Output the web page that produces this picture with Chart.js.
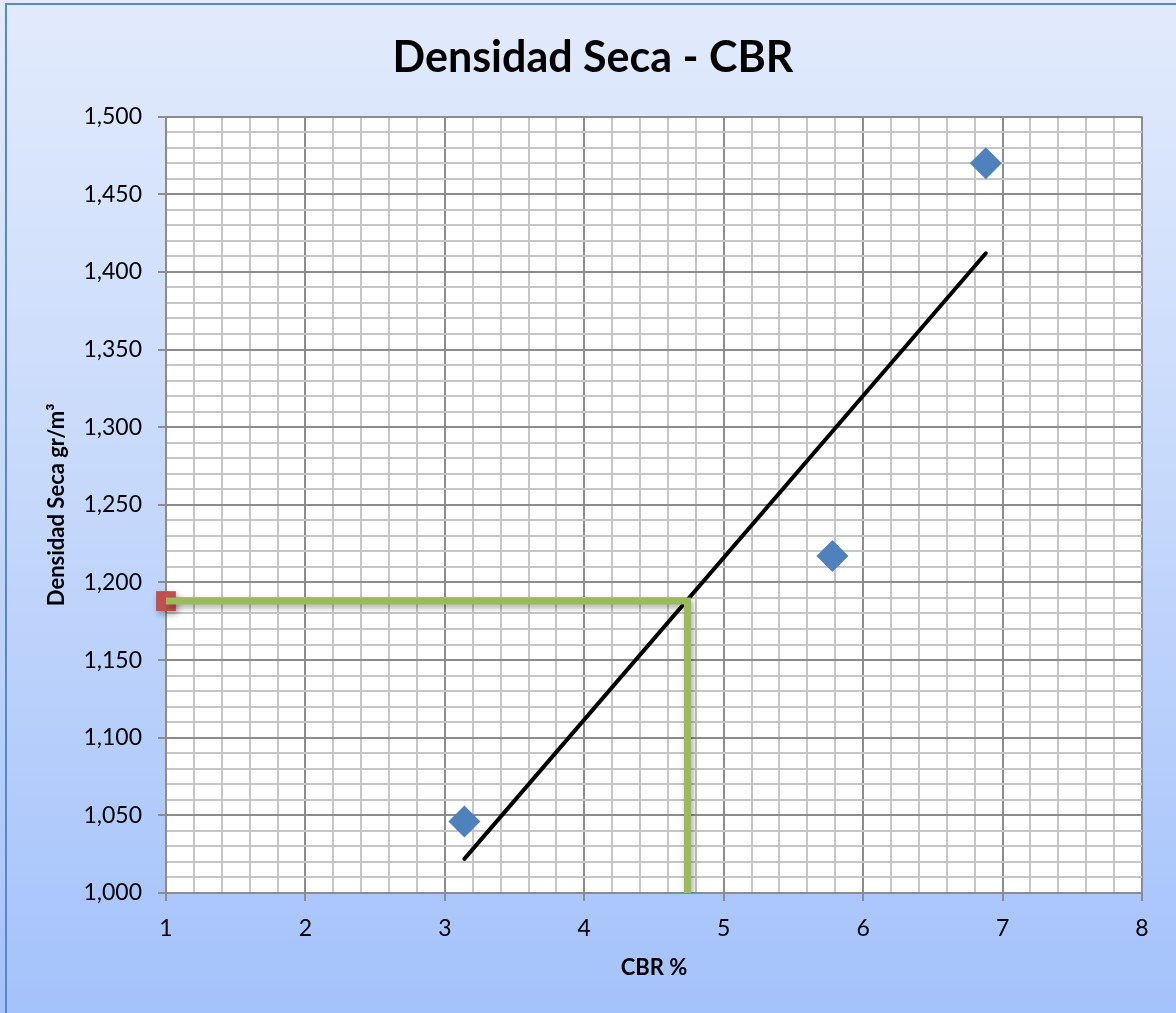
<!DOCTYPE html>
<html>
<head>
<meta charset="utf-8">
<title>Densidad Seca - CBR</title>
<script src="https://cdn.jsdelivr.net/npm/chart.js@4"></script>
<style>
  html, body { margin: 0; padding: 0; background: #ffffff; }
  #wrap { width: 1176px; height: 1013px; position: relative; }
</style>
</head>
<body>
<div id="wrap"><canvas id="cbr-chart"></canvas></div>
<script>
// datos
const cbrValues = [3.14, 5.78, 6.88];
const densityValues = [1046, 1217, 1470];

// linea de tendencia (extremos)
const trendCbr = [3.14, 6.88];
const trendDensity = [1022, 1412];

// lineas guia hasta la densidad de diseno
const guideCbr = [1, 4.74, 4.74];
const guideDensity = [1188, 1188, 1000];
const designPointCbr = [1];
const designPointDensity = [1188];

// ejes
const xMin = 1, xMax = 8, xStep = 0.2;
const yMin = 1000, yMax = 1500, yStep = 10, yMajor = 50;

const toPoints = (xs, ys) => xs.map((x, i) => ({ x: x, y: ys[i] }));

const isWhole = v => Math.abs(v - Math.round(v)) < 1e-6;
const isMajorY = v => Math.abs(v / yMajor - Math.round(v / yMajor)) < 1e-6;

// fondo degradado y area blanca del grafico
const backgroundPlugin = {
    id: 'fondo',
    beforeDraw(chart) {
        const { ctx, width, height, chartArea } = chart;
        ctx.save();
        const grad = ctx.createLinearGradient(0, 0, 0, height);
        grad.addColorStop(0, '#e2ebfc');
        grad.addColorStop(0.5, '#c5d8fb');
        grad.addColorStop(1, '#a4c2fb');
        ctx.fillStyle = grad;
        ctx.fillRect(0, 0, width, height);
        ctx.strokeStyle = '#5a86c2';
        ctx.lineWidth = 2;
        ctx.strokeRect(6, 4, width + 20, height + 20);
        ctx.fillStyle = '#ffffff';
        ctx.fillRect(chartArea.left, chartArea.top, chartArea.right - chartArea.left, chartArea.bottom - chartArea.top);
        ctx.restore();
    }
};

// sombra suave para las lineas verdes y el punto rojo
const shadowPlugin = {
    id: 'sombra',
    beforeDatasetDraw(chart, args) {
        const ds = chart.data.datasets[args.index];
        if (!ds.sombra) return;
        const ctx = chart.ctx;
        ctx.save();
        ctx.shadowColor = 'rgba(0,0,0,0.35)';
        ctx.shadowBlur = 6;
        ctx.shadowOffsetX = 2;
        ctx.shadowOffsetY = 3;
    },
    afterDatasetDraw(chart, args) {
        const ds = chart.data.datasets[args.index];
        if (!ds.sombra) return;
        chart.ctx.restore();
    }
};

const gridMinor = '#c6c6c6';
const gridMajor = '#8c8c8c';

new Chart(document.getElementById('cbr-chart'), {
    type: 'scatter',
    data: {
        datasets: [
            {
                label: 'Guia',
                data: toPoints(guideCbr, guideDensity),
                showLine: true,
                borderColor: '#9bbb59',
                borderWidth: 7,
                pointRadius: 0,
                pointHoverRadius: 0,
                fill: false,
                sombra: true
            },
            {
                label: 'Tendencia',
                data: toPoints(trendCbr, trendDensity),
                showLine: true,
                borderColor: '#000000',
                borderWidth: 4,
                borderCapStyle: 'round',
                pointRadius: 0,
                pointHoverRadius: 0,
                fill: false
            },
            {
                label: 'Densidad',
                data: toPoints(cbrValues, densityValues),
                showLine: false,
                pointStyle: 'rectRot',
                pointRadius: 16,
                pointBackgroundColor: '#4f81bd',
                pointBorderColor: '#4f81bd',
                pointBorderWidth: 0
            },
            {
                label: 'Diseno',
                data: toPoints(designPointCbr, designPointDensity),
                showLine: false,
                pointStyle: 'rect',
                pointRadius: 14,
                pointBackgroundColor: '#c0504d',
                pointBorderColor: '#c0504d',
                pointBorderWidth: 0,
                clip: false,
                sombra: true
            }
        ]
    },
    options: {
        responsive: true,
        maintainAspectRatio: false,
        animation: false,
        layout: { padding: { left: 10, right: 0, top: 0, bottom: 0 } },
        plugins: {
            legend: { display: false },
            tooltip: { enabled: false },
            title: {
                display: true,
                text: 'Densidad Seca - CBR',
                color: '#000000',
                font: { family: 'Lato', size: 43, weight: 'bold', lineHeight: 1.2 },
                padding: { top: 32, bottom: 33 }
            }
        },
        scales: {
            x: {
                type: 'linear',
                min: xMin,
                max: xMax,
                ticks: {
                    stepSize: xStep,
                    autoSkip: false,
                    maxRotation: 0,
                    minRotation: 0,
                    padding: 14,
                    color: '#000000',
                    font: { family: 'Lato', size: 23 },
                    callback: v => isWhole(v) ? String(Math.round(v)) : ''
                },
                grid: {
                    color: c => (c.tick && isWhole(c.tick.value)) ? gridMajor : gridMinor,
                    lineWidth: 2,
                    tickLength: 8,
                    tickColor: c => (c.tick && isWhole(c.tick.value)) ? gridMajor : 'rgba(0,0,0,0)'
                },
                border: { display: true, color: gridMajor, width: 2 },
                title: {
                    display: true,
                    text: 'CBR %',
                    color: '#000000',
                    font: { family: 'Lato', size: 22, weight: 'bold', lineHeight: 1.2 },
                    padding: { top: 14, bottom: 32 }
                },
                afterFit(scale) { scale.height = 120; }
            },
            y: {
                type: 'linear',
                min: yMin,
                max: yMax,
                ticks: {
                    stepSize: yStep,
                    autoSkip: false,
                    padding: 16,
                    color: '#000000',
                    font: { family: 'Lato', size: 23 },
                    callback: v => isMajorY(v) ? v.toLocaleString('en-US') : ''
                },
                grid: {
                    color: c => (c.tick && isMajorY(c.tick.value)) ? gridMajor : gridMinor,
                    lineWidth: 2,
                    tickLength: 8,
                    tickColor: c => (c.tick && isMajorY(c.tick.value)) ? gridMajor : 'rgba(0,0,0,0)'
                },
                border: { display: true, color: gridMajor, width: 2 },
                title: {
                    display: true,
                    text: 'Densidad Seca gr/m³',
                    color: '#000000',
                    font: { family: 'Lato', size: 22, weight: 'bold', lineHeight: 1.2 },
                    padding: { top: 34, bottom: 4 }
                },
                afterFit(scale) { scale.width = 156; }
            },
            // eje vacio a la derecha, solo reserva el margen
            yDer: {
                type: 'linear',
                position: 'right',
                display: true,
                min: yMin,
                max: yMax,
                ticks: { display: false },
                grid: { display: false, drawOnChartArea: false },
                border: { display: false },
                afterFit(scale) { scale.width = 34; }
            }
        }
    },
    plugins: [backgroundPlugin, shadowPlugin]
});
</script>
</body>
</html>
